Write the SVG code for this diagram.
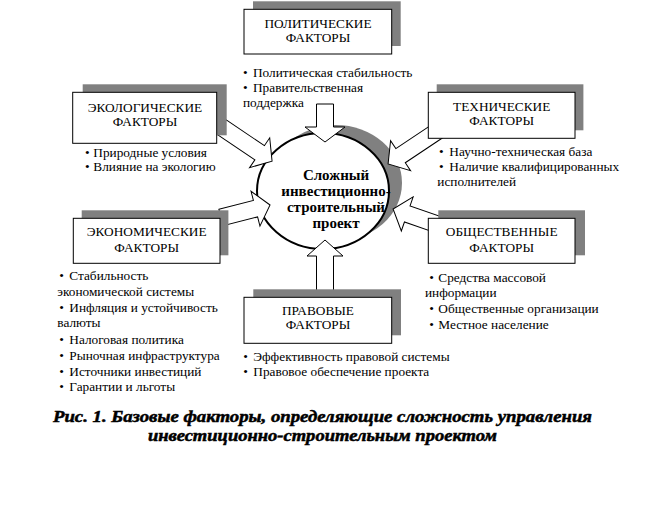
<svg xmlns="http://www.w3.org/2000/svg" width="646" height="505" viewBox="0 0 646 505">
<style>
.sh{fill:#808080;stroke:none}
.bx{fill:#fff;stroke:#000;stroke-width:1}
.tt{font-family:"Liberation Serif","Times New Roman",serif;font-size:13.3px;fill:#000;text-anchor:middle}
.bl{font-family:"Liberation Serif","Times New Roman",serif;font-size:13.3px;fill:#000}
.ar{fill:#fff;stroke:#000;stroke-width:1;stroke-linejoin:miter}
.ct{font-family:"Liberation Serif","Times New Roman",serif;font-size:15px;font-weight:bold;fill:#000;text-anchor:middle}
.cap{font-family:"Liberation Serif","Times New Roman",serif;font-size:16.5px;font-weight:bold;font-style:italic;fill:#000;stroke:#000;stroke-width:0.5;text-anchor:middle}
</style>
<rect width="646" height="505" fill="#fff"/>

<g id="center">
<ellipse cx="336" cy="183" rx="66" ry="58" class="sh"/>
<ellipse cx="323" cy="191" rx="66" ry="58" fill="#fff" stroke="#000" stroke-width="2"/>
<text class="ct" x="336" y="180">Сложный</text>
<text class="ct" x="336" y="196">инвестиционно-</text>
<text class="ct" x="336" y="212">строительный</text>
<text class="ct" x="336" y="228">проект</text>
</g>

<g id="connectors">
<polygon class="ar" transform="translate(325,104) rotate(90)" points="0,-8.5 23,-8.5 23,-20 38,0 23,20 23,8.5 0,8.5"/>
<polygon class="ar" transform="translate(325,297) rotate(-90)" points="0,-8.5 41,-8.5 41,-18 57,0 41,18 41,8.5 0,8.5"/>
<polygon class="ar" transform="translate(221.5,127) rotate(34)" points="0,-8.5 46,-8.5 46,-18 61,0 46,18 46,8.5 0,8.5"/>
<polygon class="ar" transform="translate(438,130.7) rotate(146.3)" points="0,-8.5 45,-8.5 45,-18 60,0 45,18 45,8.5 0,8.5"/>
<polygon class="ar" transform="translate(443.6,226.6) rotate(199.2)" points="0,-8.5 38.5,-8.5 38.5,-18 53.5,0 38.5,18 38.5,8.5 0,8.5"/>
<polygon class="ar" transform="translate(221,217.5) rotate(-14.3)" points="0,-8.5 35.6,-8.5 35.6,-18 50.6,0 35.6,18 35.6,8.5 0,8.5"/>
</g>

<g id="political">
<rect class="sh" x="253" y="1.3" width="147.7" height="44.7"/>
<rect class="bx" x="244" y="9.3" width="147.7" height="44.7"/>
<text class="tt" x="318" y="28.3">ПОЛИТИЧЕСКИЕ</text>
<text class="tt" x="318" y="42.3">ФАКТОРЫ</text>
<text class="bl" y="76.5"><tspan x="243">•</tspan><tspan x="253">Политическая стабильность</tspan></text>
<text class="bl" y="92"><tspan x="243">•</tspan><tspan x="253">Правительственная</tspan></text>
<text class="bl" x="243" y="107">поддержка</text>
</g>

<g id="ecological">
<rect class="sh" x="82.7" y="84.3" width="144" height="51"/>
<rect class="bx" x="72.7" y="92.3" width="144" height="51"/>
<text class="tt" x="145" y="111.5">ЭКОЛОГИЧЕСКИЕ</text>
<text class="tt" x="145" y="125.5">ФАКТОРЫ</text>
<text class="bl" y="156.5"><tspan x="85">•</tspan><tspan x="93.3">Природные условия</tspan></text>
<text class="bl" y="170.5"><tspan x="85">•</tspan><tspan x="93.3">Влияние на экологию</tspan></text>
</g>

<g id="technical">
<rect class="sh" x="436.7" y="84.3" width="146.7" height="46"/>
<rect class="bx" x="428.3" y="92.3" width="146.7" height="46"/>
<text class="tt" x="501.7" y="111">ТЕХНИЧЕСКИЕ</text>
<text class="tt" x="501.7" y="124.7">ФАКТОРЫ</text>
<text class="bl" y="155.7"><tspan x="439">•</tspan><tspan x="449.3">Научно-техническая база</tspan></text>
<text class="bl" y="170.5"><tspan x="439">•</tspan><tspan x="449.3">Наличие квалифицированных</tspan></text>
<text class="bl" x="437.3" y="185.5">исполнителей</text>
</g>

<g id="economic">
<rect class="sh" x="81.7" y="210.3" width="146.7" height="45"/>
<rect class="bx" x="73.3" y="218.3" width="146.7" height="45"/>
<text class="tt" x="146.7" y="236">ЭКОНОМИЧЕСКИЕ</text>
<text class="tt" x="146.7" y="251.5">ФАКТОРЫ</text>
<text class="bl" y="280"><tspan x="59.3">•</tspan><tspan x="69.3">Стабильность</tspan></text>
<text class="bl" x="57.3" y="295.5">экономической системы</text>
<text class="bl" y="311.5"><tspan x="59.3">•</tspan><tspan x="69.3">Инфляция и устойчивость</tspan></text>
<text class="bl" x="57.3" y="327">валюты</text>
<text class="bl" y="344"><tspan x="59.3">•</tspan><tspan x="69.3">Налоговая политика</tspan></text>
<text class="bl" y="360"><tspan x="59.3">•</tspan><tspan x="69.3">Рыночная инфраструктура</tspan></text>
<text class="bl" y="375.7"><tspan x="59.3">•</tspan><tspan x="69.3">Источники инвестиций</tspan></text>
<text class="bl" y="391"><tspan x="59.3">•</tspan><tspan x="69.3">Гарантии и льготы</tspan></text>
</g>

<g id="social">
<rect class="sh" x="438.3" y="210.3" width="146.7" height="45"/>
<rect class="bx" x="428.3" y="218.3" width="146.7" height="45"/>
<text class="tt" x="501.7" y="235.5">ОБЩЕСТВЕННЫЕ</text>
<text class="tt" x="501.7" y="251.5">ФАКТОРЫ</text>
<text class="bl" y="281.5"><tspan x="429.3">•</tspan><tspan x="438.3">Средства массовой</tspan></text>
<text class="bl" x="425" y="297">информации</text>
<text class="bl" y="312.5"><tspan x="429.3">•</tspan><tspan x="438.3">Общественные организации</tspan></text>
<text class="bl" y="328.5"><tspan x="429.3">•</tspan><tspan x="438.3">Местное население</tspan></text>
</g>

<g id="legal">
<rect class="sh" x="253.3" y="289.3" width="147.7" height="46"/>
<rect class="bx" x="244" y="297.3" width="147.7" height="46"/>
<text class="tt" x="318" y="315">ПРАВОВЫЕ</text>
<text class="tt" x="318" y="329">ФАКТОРЫ</text>
<text class="bl" y="361"><tspan x="243.3">•</tspan><tspan x="253.3">Эффективность правовой системы</tspan></text>
<text class="bl" y="375.5"><tspan x="243.3">•</tspan><tspan x="253.3">Правовое обеспечение проекта</tspan></text>
</g>

<g id="caption">
<text class="cap" x="322.5" y="421.7" textLength="539" lengthAdjust="spacingAndGlyphs">Рис. 1. Базовые факторы, определяющие сложность управления</text>
<text class="cap" x="322.5" y="441" textLength="349" lengthAdjust="spacingAndGlyphs">инвестиционно-строительным проектом</text>
</g>
</svg>
